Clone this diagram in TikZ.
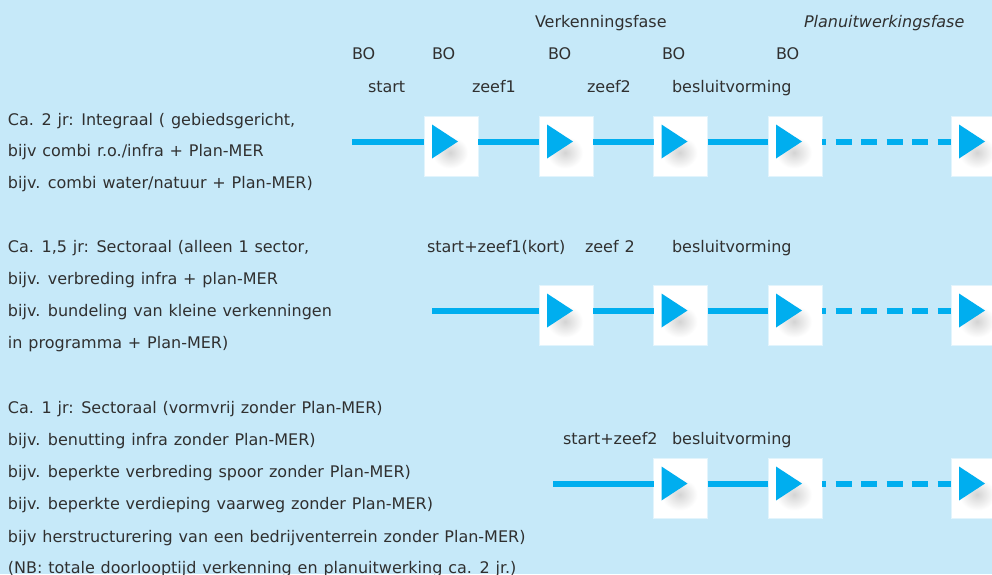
\documentclass[tikz,border=0pt]{standalone}
\usepackage{fontspec}
\setmainfont{DejaVu Sans}[WordSpace=1.15]
\usetikzlibrary{calc}
\definecolor{bgblue}{RGB}{198,233,249}
\definecolor{flowcyan}{RGB}{0,174,239}
\definecolor{inkgrey}{RGB}{48,48,48}
\definecolor{boxedge}{RGB}{226,244,252}

\begin{document}
\begin{tikzpicture}[x=1pt,y=-1pt,
  every node/.style={inner sep=0pt, outer sep=0pt},
  txt/.style={anchor=base west, text=inkgrey, font=\fontsize{16}{19}\selectfont},
  stepbox/.style={minimum width=54pt, minimum height=60pt, fill=white, draw=boxedge,
    line width=0.8pt,
    path picture={
      \coordinate (pnw) at (path picture bounding box.north west);
      \shade[inner color=black!17, outer color=white]
        ($(pnw)+(26pt,-36pt)$) ellipse [x radius=18pt, y radius=16pt];
      \fill[flowcyan] ($(pnw)+(8pt,-8pt)$) -- ++(0pt,-34pt) -- ++(26pt,17pt) -- cycle;
    }},
  flow/.style={draw=flowcyan, line width=5.5pt},
  flowdash/.style={flow, dash pattern=on 16pt off 9.5pt, dash phase=12pt}]

\useasboundingbox (0,0) rectangle (992,574);
\clip (0,0) rectangle (992,574);
\fill[bgblue] (0,0) rectangle (992,574);

% phase headings
\node[txt] (vf) at (535,27) {Verkenningsfase};
\node[txt, font=\fontsize{16}{19}\selectfont\itshape] (pf) at (804,27) {Planuitwerkingsfase};

% decision moments
\node[txt] (bo1) at (352,59) {BO};
\node[txt] (bo2) at (432,59) {BO};
\node[txt] (bo3) at (548,59) {BO};
\node[txt] (bo4) at (662,59) {BO};
\node[txt] (bo5) at (776,59) {BO};

% ---------- track 1: integraal ----------
\node[txt] (l1a) at (368,92) {start};
\node[txt] (l1b) at (472,92) {zeef1};
\node[txt] (l1c) at (587,92) {zeef2};
\node[txt] (l1d) at (672,92) {besluitvorming};

\node[txt] (t1a) at (8,125) {Ca. 2 jr: Integraal ( gebiedsgericht,};
\node[txt] (t1b) at (8,156.5) {bijv combi r.o./infra + Plan-MER};
\node[txt] (t1c) at (8,188) {bijv. combi water/natuur + Plan-MER)};

\coordinate (s1) at (352,142);
\node[stepbox] (r1a) at (451,146.5) {};
\node[stepbox] (r1b) at (566,146.5) {};
\node[stepbox] (r1c) at (680.5,146.5) {};
\node[stepbox] (r1d) at (795,146.5) {};
\node[stepbox] (r1e) at (978,146.5) {};
\draw[flow] (s1) -- (s1 -| r1a.west);
\draw[flow] (r1a.east |- s1) -- (s1 -| r1b.west);
\draw[flow] (r1b.east |- s1) -- (s1 -| r1c.west);
\draw[flow] (r1c.east |- s1) -- (s1 -| r1d.west);
\draw[flowdash] (r1d.east |- s1) -- (s1 -| r1e.west);

% ---------- track 2: sectoraal 1,5 jr ----------
\node[txt] (l2a) at (427,252) {start+zeef1(kort)};
\node[txt] (l2b) at (585,252) {zeef 2};
\node[txt] (l2c) at (672,252) {besluitvorming};

\node[txt] (t2a) at (8,252.5) {Ca. 1,5 jr: Sectoraal (alleen 1 sector,};
\node[txt] (t2b) at (8,284.3) {bijv. verbreding infra + plan-MER};
\node[txt] (t2c) at (8,316) {bijv. bundeling van kleine verkenningen};
\node[txt] (t2d) at (8,348) {in programma + Plan-MER)};

\coordinate (s2) at (432,311);
\node[stepbox] (r2b) at (566,315.5) {};
\node[stepbox] (r2c) at (680.5,315.5) {};
\node[stepbox] (r2d) at (795,315.5) {};
\node[stepbox] (r2e) at (978,315.5) {};
\draw[flow] (s2) -- (s2 -| r2b.west);
\draw[flow] (r2b.east |- s2) -- (s2 -| r2c.west);
\draw[flow] (r2c.east |- s2) -- (s2 -| r2d.west);
\draw[flowdash] (r2d.east |- s2) -- (s2 -| r2e.west);

% ---------- track 3: sectoraal 1 jr ----------
\node[txt] (l3a) at (563,444) {start+zeef2};
\node[txt] (l3b) at (672,444) {besluitvorming};

\node[txt] (t3a) at (8,413.3) {Ca. 1 jr: Sectoraal (vormvrij zonder Plan-MER)};
\node[txt] (t3b) at (8,445) {bijv. benutting infra zonder Plan-MER)};
\node[txt] (t3c) at (8,477.5) {bijv. beperkte verbreding spoor zonder Plan-MER)};
\node[txt] (t3d) at (8,509.3) {bijv. beperkte verdieping vaarweg zonder Plan-MER)};
\node[txt] (t3e) at (8,542) {bijv herstructurering van een bedrijventerrein zonder Plan-MER)};
\node[txt] (t3f) at (8,573.3) {(NB: totale doorlooptijd verkenning en planuitwerking ca. 2 jr.)};

\coordinate (s3) at (553,484);
\node[stepbox] (r3c) at (680.5,488.5) {};
\node[stepbox] (r3d) at (795,488.5) {};
\node[stepbox] (r3e) at (978,488.5) {};
\draw[flow] (s3) -- (s3 -| r3c.west);
\draw[flow] (r3c.east |- s3) -- (s3 -| r3d.west);
\draw[flowdash] (r3d.east |- s3) -- (s3 -| r3e.west);
\end{tikzpicture}
\end{document}
